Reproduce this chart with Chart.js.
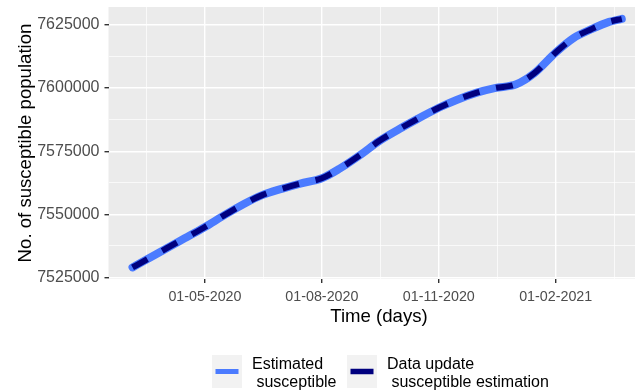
<!DOCTYPE html>
<html>
<head>
<meta charset="utf-8">
<script src="https://cdn.jsdelivr.net/npm/chart.js@4.4.1/dist/chart.umd.min.js"></script>
<style>
  html, body { margin: 0; padding: 0; background: #ffffff; }
  canvas { display: block; }
</style>
</head>
<body>
<canvas id="chart" width="635" height="392"></canvas>
<script>
// Susceptible population over time (one value per date)
const dates = [
  '2020-03-05', '2020-03-15', '2020-04-01', '2020-04-15', '2020-05-01', '2020-05-15',
  '2020-06-01', '2020-06-15', '2020-07-01', '2020-07-15', '2020-08-01', '2020-08-15',
  '2020-09-01', '2020-09-15', '2020-10-01', '2020-10-15', '2020-11-01', '2020-11-15',
  '2020-12-01', '2020-12-15', '2021-01-01', '2021-01-15', '2021-02-01', '2021-02-15',
  '2021-03-01', '2021-03-15', '2021-03-25'
];
const susceptible = [
  7529000, 7531800, 7536600, 7540500, 7545000, 7549300,
  7554200, 7557600, 7560200, 7562200, 7564300, 7568100,
  7573800, 7579000, 7583800, 7587700, 7592200, 7595300,
  7598200, 7600000, 7601500, 7605800, 7614100, 7619800,
  7623300, 7626200, 7627400
];

// Axis breaks
const yMajorTicks = [7525000, 7550000, 7575000, 7600000, 7625000];
const yMinorTicks = [7537500, 7562500, 7587500, 7612500];
const xMajorTicks = ['2020-05-01', '2020-08-01', '2020-11-01', '2021-02-01'];
const xMinorTicks = ['2020-03-16', '2020-06-16', '2020-09-16', '2020-12-17', '2021-03-19'];

const seriesNames = [['Estimated', ' susceptible'], ['Data update', ' susceptible estimation']];
const xTitle = 'Time (days)';
const yTitle = 'No. of susceptible population';

const LIGHT = '#4B7BFF';
const NAVY = '#00007F';
const FONT = '"Liberation Sans", Arial, sans-serif';

const DAY = 86400000;
const toDay = s => { const [y, m, d] = s.split('-').map(Number); return Date.UTC(y, m - 1, d) / DAY; };
const fmtDay = n => {
  const d = new Date(Math.round(n) * DAY);
  const p = v => String(v).padStart(2, '0');
  return p(d.getUTCDate()) + '-' + p(d.getUTCMonth() + 1) + '-' + d.getUTCFullYear();
};

const points = dates.map((s, i) => ({ x: toDay(s), y: susceptible[i] }));
const xMajor = new Set(xMajorTicks.map(toDay));
const yMajor = new Set(yMajorTicks);
const may1 = toDay('2020-05-01');

const panelPlugin = {
  id: 'panel',
  beforeDraw(chart) {
    const { ctx, chartArea: a } = chart;
    ctx.save();
    ctx.fillStyle = '#EBEBEB';
    ctx.fillRect(a.left, a.top, a.right - a.left, a.bottom - a.top);
    ctx.restore();
  },
  afterDraw(chart) {
    const ctx = chart.ctx;
    ctx.save();
    // x axis title
    ctx.fillStyle = '#000000';
    ctx.font = '18.6px ' + FONT;
    ctx.textAlign = 'center';
    ctx.textBaseline = 'middle';
    ctx.fillText(xTitle, 379, 316.5);

    // legend
    const keys = [
      { x: 212, color: LIGHT, width: 5 },
      { x: 347, color: NAVY, width: 5.5 }
    ];
    ctx.font = '16px ' + FONT;
    ctx.textAlign = 'left';
    keys.forEach((k, i) => {
      ctx.fillStyle = '#F2F2F2';
      ctx.fillRect(k.x, 355, 30, 33);
      ctx.strokeStyle = k.color;
      ctx.lineWidth = k.width;
      ctx.lineCap = 'butt';
      ctx.beginPath();
      ctx.moveTo(k.x + 3.5, 371.5);
      ctx.lineTo(k.x + 26.5, 371.5);
      ctx.stroke();
      ctx.fillStyle = '#000000';
      ctx.fillText(seriesNames[i][0], k.x + 40, 365);
      ctx.fillText(seriesNames[i][1], k.x + 40, 382.7);
    });
    ctx.restore();
  }
};

new Chart(document.getElementById('chart'), {
  type: 'line',
  data: {
    datasets: [
      {
        label: seriesNames[0].join(''),
        data: points,
        borderColor: LIGHT,
        borderWidth: 8,
        borderCapStyle: 'round',
        borderJoinStyle: 'round',
        pointRadius: 0,
        cubicInterpolationMode: 'monotone',
        order: 2
      },
      {
        label: seriesNames[1].join(''),
        data: points,
        borderColor: NAVY,
        borderWidth: 6,
        borderDash: [17, 17],
        borderCapStyle: 'butt',
        pointRadius: 0,
        cubicInterpolationMode: 'monotone',
        order: 1
      }
    ]
  },
  options: {
    responsive: false,
    animation: false,
    devicePixelRatio: 1,
    layout: { padding: { top: 7, right: 0, bottom: 0, left: 0 } },
    plugins: { legend: { display: false }, tooltip: { enabled: false } },
    scales: {
      x: {
        type: 'linear',
        min: may1 - 75.9,
        max: may1 + 338.4,
        afterFit(scale) {
          scale.height = 113;
          scale.paddingLeft = 0;
          scale.paddingRight = 0;
        },
        afterBuildTicks(scale) {
          scale.ticks = xMinorTicks.concat(xMajorTicks).map(toDay).sort((a, b) => a - b).map(v => ({ value: v }));
        },
        border: { display: false },
        grid: {
          color: '#FFFFFF',
          lineWidth: c => (c.tick && xMajor.has(c.tick.value) ? 1.4 : 0.7),
          tickColor: c => (c.tick && xMajor.has(c.tick.value) ? '#333333' : 'rgba(0,0,0,0)'),
          tickLength: 4,
          drawTicks: true
        },
        ticks: {
          autoSkip: false,
          maxRotation: 0,
          padding: 5,
          color: '#4D4D4D',
          font: { family: FONT, size: 14.3 },
          callback: v => (xMajor.has(v) ? fmtDay(v) : '')
        }
      },
      y: {
        min: 7524400,
        max: 7632100,
        afterFit(scale) {
          scale.width = 108.5;
          scale.paddingTop = 0;
          scale.paddingBottom = 0;
        },
        afterBuildTicks(scale) {
          scale.ticks = yMinorTicks.concat(yMajorTicks).sort((a, b) => a - b).map(v => ({ value: v }));
        },
        border: { display: false },
        grid: {
          color: '#FFFFFF',
          lineWidth: c => (c.tick && yMajor.has(c.tick.value) ? 1.4 : 0.7),
          tickColor: c => (c.tick && yMajor.has(c.tick.value) ? '#333333' : 'rgba(0,0,0,0)'),
          tickLength: 4,
          drawTicks: true
        },
        ticks: {
          autoSkip: false,
          padding: 5,
          color: '#4D4D4D',
          font: { family: FONT, size: 16 },
          callback: v => (yMajor.has(v) ? String(v) : '')
        },
        title: {
          display: true,
          text: yTitle,
          color: '#000000',
          font: { family: FONT, size: 18.6 },
          padding: { top: 14.3, bottom: 0 }
        }
      }
    }
  },
  plugins: [panelPlugin]
});
</script>
</body>
</html>
